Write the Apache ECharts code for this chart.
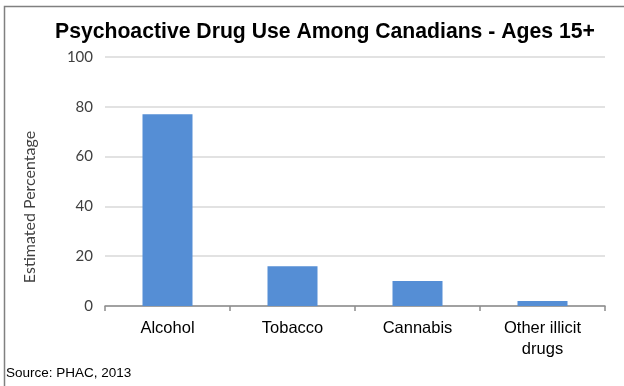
<!DOCTYPE html>
<html>
<head>
<meta charset="utf-8">
<script src="https://cdn.jsdelivr.net/npm/echarts@6/dist/echarts.min.js"></script>
<style>html,body{margin:0;padding:0;background:#fff;}#c{width:624px;height:386px;}</style>
</head>
<body>
<div id="c"></div>
<script>
const titleText = "Psychoactive Drug Use Among Canadians - Ages 15+";
const categories = ["Alcohol", "Tobacco", "Cannabis", "Other illicit\ndrugs"];
const values = [77, 16, 10, 2];
const yTicks = [0, 20, 40, 60, 80, 100];
const yAxisName = "Estimated Percentage";
const sourceText = "Source: PHAC, 2013";

const chart = echarts.init(document.getElementById('c'), null, {renderer: 'canvas'});
chart.setOption({
  animation: false,
  backgroundColor: '#fff',
  title: {
    text: titleText, left: 50, top: 17,
    textStyle: {fontFamily: 'Liberation Sans, Arial', fontWeight: 'bold', fontSize: 21.2, color: '#000'}
  },
  grid: {left: 105, right: 19, top: 57, bottom: 80},
  xAxis: {
    type: 'category', data: categories,
    axisLine: {lineStyle: {color: '#8c8c8c', width: 1.5}},
    axisTick: {show: true, length: 5, lineStyle: {color: '#8c8c8c', width: 1.5}},
    axisLabel: {fontFamily: 'Liberation Sans, Arial', fontSize: 16.5, color: '#000', margin: 12, lineHeight: 21}
  },
  yAxis: {
    type: 'value', min: yTicks[0], max: yTicks[yTicks.length - 1], interval: 20,
    axisLine: {show: false}, axisTick: {show: false},
    splitLine: {lineStyle: {color: '#d9d9d9', width: 1.5}},
    axisLabel: {fontFamily: 'Lato, Open Sans', fontSize: 15, color: '#404040', margin: 12}
  },
  series: [{
    type: 'bar', data: values, barWidth: 50,
    itemStyle: {color: '#558ed5'}
  }],
  graphic: [
    {type: 'rect', left: 2, top: 4, shape: {width: 640, height: 400},
     style: {fill: 'none', stroke: '#808080', lineWidth: 1.5}, silent: true, z: -1},
    {type: 'text', x: 30, y: 207, rotation: Math.PI / 2,
     style: {text: yAxisName, fontFamily: 'Lato, Open Sans', fontSize: 16, fill: '#404040',
             textAlign: 'center', textVerticalAlign: 'middle'}},
    {type: 'text', left: 6, top: 366,
     style: {text: sourceText, fontFamily: 'Liberation Sans, Arial', fontSize: 13.5, fill: '#000'}}
  ]
});
</script>
</body>
</html>
